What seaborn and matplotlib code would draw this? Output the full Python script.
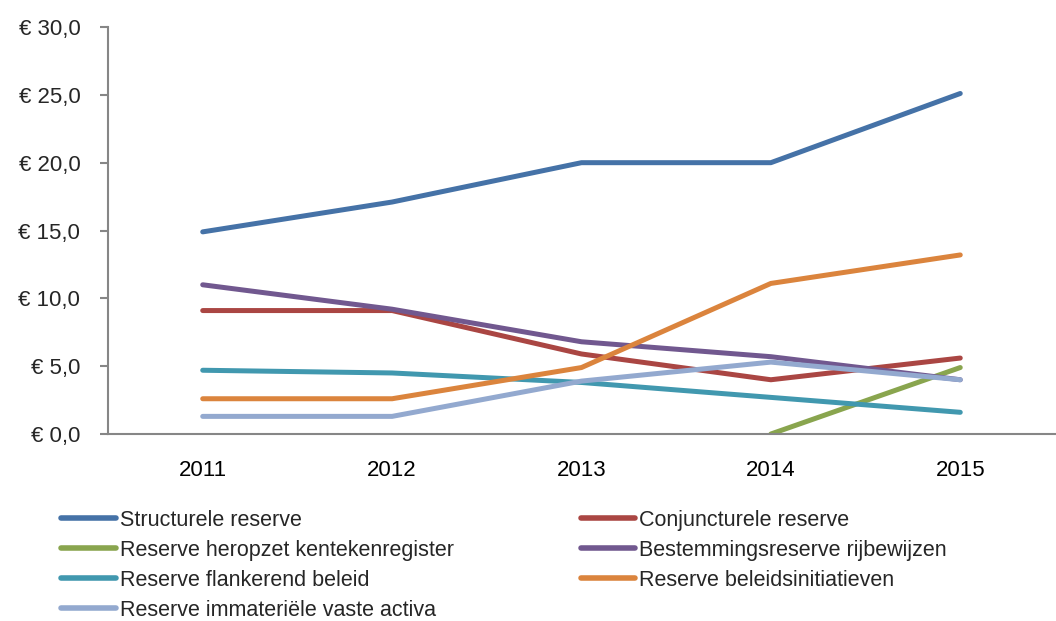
import numpy as np
import pandas as pd
import matplotlib
matplotlib.use("Agg")
import matplotlib.pyplot as plt
import matplotlib.ticker as mticker
import seaborn as sns

# Data (in miljoenen euro)
jaren = ["2011", "2012", "2013", "2014", "2015"]
structurele = [14.9, 17.1, 20.0, 20.0, 25.1]
conjuncturele = [9.1, 9.1, 5.9, 4.0, 5.6]
heropzet = [np.nan, np.nan, np.nan, 0.0, 4.9]
bestemmings = [11.0, 9.2, 6.8, 5.7, 4.0]
flankerend = [4.7, 4.5, 3.8, 2.7, 1.6]
beleidsinit = [2.6, 2.6, 4.9, 11.1, 13.2]
immaterieel = [1.3, 1.3, 3.9, 5.3, 4.0]

reeksen = {
    "Structurele reserve": structurele,
    "Conjuncturele reserve": conjuncturele,
    "Reserve heropzet kentekenregister": heropzet,
    "Bestemmingsreserve rijbewijzen": bestemmings,
    "Reserve flankerend beleid": flankerend,
    "Reserve beleidsinitiatieven": beleidsinit,
    "Reserve immateriële vaste activa": immaterieel,
}
kleuren = ["#4572A7", "#AA4643", "#89A54E", "#71588F", "#4198AF", "#DB843D", "#93A9CF"]

rows = []
for naam, waarden in reeksen.items():
    for i, w in enumerate(waarden):
        rows.append({"x": i, "waarde": w, "reeks": naam})
df = pd.DataFrame(rows).dropna()

sns.set_style("white")
plt.rcParams["font.family"] = ["Liberation Sans", "DejaVu Sans"]

fig = plt.figure(figsize=(10.56, 6.21), dpi=100)
ax = fig.add_axes([0.1023, 0.3011, 0.8967, 0.6554])

sns.lineplot(data=df, x="x", y="waarde", hue="reeks", hue_order=list(reeksen.keys()),
             palette=kleuren, linewidth=3.6, ax=ax, legend=True,
             solid_capstyle="round", solid_joinstyle="round")

ax.set_xlim(-0.5, 4.5)
ax.set_ylim(0, 30)
ax.set_xticks(range(len(jaren)))
ax.set_xticklabels(jaren)
ax.set_xticks(np.arange(-0.5, 4.6, 1), minor=True)
ax.tick_params(axis="x", which="major", length=0, pad=19, labelsize=16, colors="black")
ax.tick_params(axis="x", which="minor", length=6, width=1.5, color="#868686", direction="out")
ax.set_yticks(np.arange(0, 31, 5))
ax.yaxis.set_major_formatter(mticker.FuncFormatter(lambda v, p: "€ " + f"{v:.1f}".replace(".", ",")))
ax.tick_params(axis="y", length=6, width=1.5, color="#868686", direction="out", pad=14, labelsize=16, left=True)
ax.set_xlabel("")
ax.set_ylabel("")
for s in ["top", "right"]:
    ax.spines[s].set_visible(False)
for s in ["left", "bottom"]:
    ax.spines[s].set_color("#868686")
    ax.spines[s].set_linewidth(1.5)

handles, labels = ax.get_legend_handles_labels()
ax.legend_.remove()
volgorde = [0, 2, 4, 6, 1, 3, 5]
leg = fig.legend([handles[i] for i in volgorde], [labels[i] for i in volgorde],
                 ncol=2, loc="upper left", bbox_to_anchor=(0.050, 0.193),
                 frameon=False, fontsize=15.5, handlelength=2.55, handletextpad=0.15,
                 labelspacing=0.42, columnspacing=5.9, borderaxespad=0)
for line in leg.get_lines():
    line.set_linewidth(4)

fig.savefig("out.png", dpi=100)
